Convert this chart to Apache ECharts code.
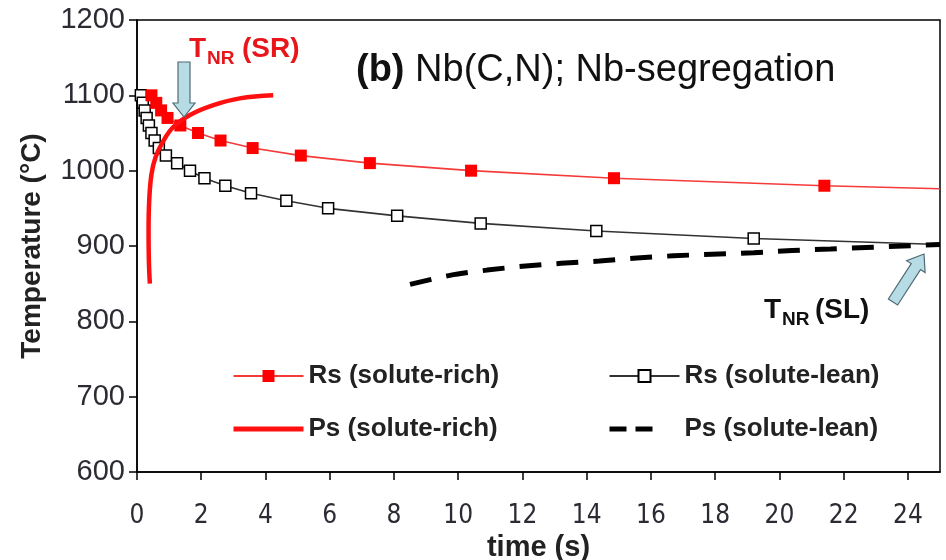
<!DOCTYPE html>
<html>
<head>
<meta charset="utf-8">
<script src="https://cdn.jsdelivr.net/npm/echarts@6/dist/echarts.min.js"></script>
<style>
  html, body { margin: 0; padding: 0; background: #fff; }
  #chart { width: 946px; height: 560px; }
</style>
</head>
<body>
<div id="chart"></div>
<script>
var chart = echarts.init(document.getElementById('chart'));

// x ticks (s)
var timeTicks = [0, 2, 4, 6, 8, 10, 12, 14, 16, 18, 20, 22, 24];

// Rs (solute-rich)
var rsRichTime = [0.45, 0.6, 0.75, 0.95, 1.35, 1.9, 2.6, 3.6, 5.1, 7.25, 10.4, 14.85, 21.4, 25];
var rsRichTemp = [1100, 1090, 1080, 1070, 1060, 1050, 1040, 1030, 1020, 1010, 1000, 990, 980, 976];

// Rs (solute-lean)
var rsLeanTime = [0.12, 0.18, 0.24, 0.3, 0.37, 0.45, 0.55, 0.68, 0.9, 1.25, 1.65, 2.1, 2.75, 3.55, 4.65, 5.95, 8.1, 10.7, 14.3, 19.2, 25];
var rsLeanTemp = [1100, 1090, 1080, 1070, 1060, 1050, 1040, 1030, 1020, 1010, 1000, 990, 980, 970, 960, 950, 940, 930, 920, 910, 902];

// Ps (solute-rich)
var psRichTime = [0.4, 0.37, 0.36, 0.38, 0.45, 0.58, 0.8, 1.13, 1.65, 2.38, 3.2, 4.24];
var psRichTemp = [850, 880, 920, 960, 995, 1018, 1038, 1058, 1074, 1087, 1096, 1100];

// Ps (solute-lean)
var psLeanTime = [8.5, 9.74, 10.9, 12.0, 13.2, 14.4, 15.56, 16.7, 17.9, 19.2, 20.4, 21.6, 22.7, 23.85, 25];
var psLeanTemp = [849, 861, 868, 873, 877, 880, 884, 887, 889, 891, 894, 896, 898, 900, 902];

function pairs(xs, ys, lastPlain) {
    return xs.map(function (x, i) {
        var item = { value: [x, ys[i]] };
        // last point only carries the line out to the frame
        if (lastPlain && i === xs.length - 1) item.symbol = 'none';
        return item;
    });
}

function arrowPoints(tail, tip, shaftW, headW, headL) {
    var dx = tip[0] - tail[0], dy = tip[1] - tail[1];
    var len = Math.sqrt(dx * dx + dy * dy);
    var ux = dx / len, uy = dy / len;
    var nx = -uy, ny = ux;
    var bx = tip[0] - ux * headL, by = tip[1] - uy * headL;
    var s = shaftW / 2, h = headW / 2;
    return [
        [tail[0] + nx * s, tail[1] + ny * s],
        [bx + nx * s, by + ny * s],
        [bx + nx * h, by + ny * h],
        tip,
        [bx - nx * h, by - ny * h],
        [bx - nx * s, by - ny * s],
        [tail[0] - nx * s, tail[1] - ny * s]
    ];
}

var font = 'Arial, "Liberation Sans", sans-serif';
var narrow = '"Liberation Sans Narrow", "Arial Narrow", "DejaVu Sans Condensed", Arial, sans-serif';
var arrowFill = '#b8dce6';
var arrowLine = '#4f6b74';

var legendText = { fontSize: 26, fontWeight: 'bold', color: '#222', fontFamily: font, lineHeight: 30 };

var option = {
    animation: false,
    backgroundColor: '#fff',
    grid: {
        left: 137, right: 6, top: 20, bottom: 88,
        outerBoundsMode: 'none',
        show: true, borderColor: '#000', borderWidth: 1.5, backgroundColor: 'transparent'
    },
    legend: [{
        data: [
            { name: 'Rs (solute-rich)' },
            { name: 'Ps (solute-rich)', itemStyle: { opacity: 0 }, lineStyle: { color: '#ff1010', width: 5 } }
        ],
        orient: 'vertical', left: 226, top: 356,
        itemWidth: 70, itemHeight: 15, itemGap: 23,
        selectedMode: false, textStyle: legendText
    }, {
        data: [
            { name: 'Rs (solute-lean)' },
            { name: 'Ps (solute-lean)', itemStyle: { opacity: 0 }, lineStyle: { color: '#000', width: 5, type: [17, 9, 17, 80] } }
        ],
        orient: 'vertical', left: 602, top: 356,
        itemWidth: 70, itemHeight: 15, itemGap: 23,
        selectedMode: false, textStyle: legendText
    }],
    xAxis: {
        type: 'value', min: 0, max: 25,
        name: 'time (s)', nameLocation: 'middle', nameGap: 57,
        nameTextStyle: { fontSize: 29, fontWeight: 'bold', color: '#222', fontFamily: font },
        axisLine: { lineStyle: { color: '#000', width: 1.5 } },
        axisTick: { show: true, customValues: timeTicks, length: 8, lineStyle: { color: '#000', width: 1.5 } },
        axisLabel: { customValues: timeTicks, fontSize: 26, color: '#2b2b33', margin: 31, fontFamily: narrow },
        splitLine: { show: false }
    },
    yAxis: {
        type: 'value', min: 600, max: 1200, interval: 100,
        name: 'Temperature (°C)', nameLocation: 'middle', nameGap: 91,
        nameTextStyle: { fontSize: 28, fontWeight: 'bold', color: '#222', fontFamily: font },
        axisLine: { show: true, lineStyle: { color: '#000', width: 1.5 } },
        axisTick: { show: true, length: 8, lineStyle: { color: '#000', width: 1.5 } },
        axisLabel: { fontSize: 29, color: '#2b2b33', margin: 12, fontFamily: font, formatter: function (v) { return String(v); } },
        splitLine: { show: false }
    },
    series: [{
        name: 'Rs (solute-rich)',
        type: 'line',
        data: pairs(rsRichTime, rsRichTemp, true),
        symbol: 'rect', symbolSize: 12,
        itemStyle: { color: '#ff0000' },
        lineStyle: { color: '#f53a3a', width: 1.6 },
        z: 3
    }, {
        name: 'Rs (solute-lean)',
        type: 'line',
        data: pairs(rsLeanTime, rsLeanTemp, true),
        symbol: 'rect', symbolSize: 11,
        itemStyle: { color: '#fff', borderColor: '#000', borderWidth: 1.5 },
        lineStyle: { color: '#333', width: 1.6 },
        z: 2
    }, {
        name: 'Ps (solute-rich)',
        type: 'line',
        data: pairs(psRichTime, psRichTemp, false),
        smooth: 0.4,
        showSymbol: false, symbol: 'none',
        lineStyle: { color: '#ff1010', width: 4.5 },
        itemStyle: { color: '#ff1010' },
        z: 4
    }, {
        name: 'Ps (solute-lean)',
        type: 'line',
        data: pairs(psLeanTime, psLeanTemp, false),
        smooth: 0.3,
        showSymbol: false, symbol: 'none',
        lineStyle: { color: '#000', width: 5, type: [22, 15] },
        itemStyle: { color: '#000' },
        z: 4
    }],
    graphic: [{
        type: 'text', left: 356, top: 52,
        style: {
            text: '{b|(b)}{n| Nb(C,N); Nb-segregation}',
            rich: {
                b: { fontSize: 38, fontWeight: 'bold', fontFamily: font, fill: '#111' },
                n: { fontSize: 38, fontFamily: font, fill: '#111' }
            }
        }
    },
    // T_NR (SR)
    { type: 'text', style: { x: 189, y: 49, text: 'T', fontSize: 28, fontWeight: 'bold', fontFamily: font, fill: '#e8161a', verticalAlign: 'middle' } },
    { type: 'text', style: { x: 207, y: 59, text: 'NR', fontSize: 19, fontWeight: 'bold', fontFamily: font, fill: '#e8161a', verticalAlign: 'middle' } },
    { type: 'text', style: { x: 242, y: 49, text: '(SR)', fontSize: 28, fontWeight: 'bold', fontFamily: font, fill: '#e8161a', verticalAlign: 'middle' } },
    // T_NR (SL)
    { type: 'text', style: { x: 764, y: 310, text: 'T', fontSize: 28, fontWeight: 'bold', fontFamily: font, fill: '#111', verticalAlign: 'middle' } },
    { type: 'text', style: { x: 782, y: 320, text: 'NR', fontSize: 19, fontWeight: 'bold', fontFamily: font, fill: '#111', verticalAlign: 'middle' } },
    { type: 'text', style: { x: 815, y: 310, text: '(SL)', fontSize: 28, fontWeight: 'bold', fontFamily: font, fill: '#111', verticalAlign: 'middle' } },
    // arrows
    {
        type: 'polygon',
        shape: { points: arrowPoints([184, 62], [184, 117], 12, 22, 14) },
        style: { fill: arrowFill, stroke: arrowLine, lineWidth: 1.2 },
        z: 10
    }, {
        type: 'polygon',
        shape: { points: arrowPoints([893, 302], [924, 254], 11, 22, 15) },
        style: { fill: arrowFill, stroke: arrowLine, lineWidth: 1.2 },
        z: 10
    }]
};

chart.setOption(option);
</script>
</body>
</html>
